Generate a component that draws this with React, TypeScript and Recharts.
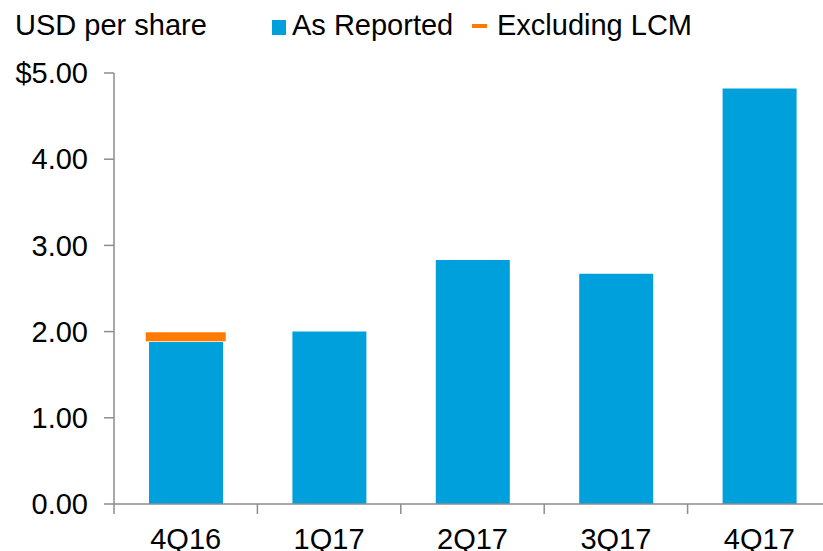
import {
  ComposedChart,
  Bar,
  Line,
  XAxis,
  YAxis,
  Legend,
} from "recharts";

const quarters = ["4Q16", "1Q17", "2Q17", "3Q17", "4Q17"];
const asReported = [1.88, 2.0, 2.83, 2.67, 4.82];
const excludingLcm: (number | null)[] = [1.94, null, null, null, null];
const yTicks = [0, 1, 2, 3, 4, 5];

const BLUE = "#00A0DC";
const ORANGE = "#FF7A00";
const AXIS = "#8C8C8C";
const FONT = "'Liberation Sans', Arial, sans-serif";
const FS = 29;

const data = quarters.map((q, i) => ({
  quarter: q,
  reported: asReported[i],
  excl: excludingLcm[i],
}));

const CHART_W = 831;
const CHART_H = 551;
const PLOT_LEFT = 114;
const BAND = (CHART_W - PLOT_LEFT) / quarters.length;

function QuarterTick(props: any) {
  const { x, y, payload } = props;
  const axisY = y - 24;
  const edge = x - BAND / 2;
  return (
    <g>
      <line x1={edge} y1={axisY} x2={edge} y2={axisY + 10} stroke={AXIS} strokeWidth={1.5} />
      <text
        x={x}
        y={y}
        dy="0.71em"
        textAnchor="middle"
        fill="#000"
        fontSize={FS}
        fontFamily={FONT}
      >
        {payload.value}
      </text>
    </g>
  );
}

function ExclMarker(props: any) {
  const { cx, cy, index } = props;
  if (cy == null || cx == null) return <g key={`m-${index}`} />;
  return <rect key={`m-${index}`} x={cx - 40} y={cy - 4.5} width={80} height={9} fill={ORANGE} />;
}

function LegendContent() {
  const txt: React.CSSProperties = {
    position: "absolute",
    top: 11,
    lineHeight: "28px",
    fontSize: FS,
    fontFamily: FONT,
    color: "#000",
    whiteSpace: "nowrap",
  };
  return (
    <div style={{ position: "relative", width: 823, height: 50 }}>
      <span style={{ ...txt, left: 15 }}>USD per share</span>
      <span style={{ position: "absolute", left: 272, top: 20, width: 14, height: 15, background: BLUE }} />
      <span style={{ ...txt, left: 292 }}>As Reported</span>
      <span style={{ position: "absolute", left: 472, top: 24, width: 15, height: 4, background: ORANGE }} />
      <span style={{ ...txt, left: 497 }}>Excluding LCM</span>
    </div>
  );
}

export default function App() {
  return (
    <div
      style={{
        position: "absolute",
        left: 0,
        top: 0,
        width: 823,
        height: 551,
        overflow: "hidden",
        background: "#fff",
      }}
    >
      <ComposedChart
        width={CHART_W}
        height={CHART_H}
        data={data}
        margin={{ top: 73, right: 0, bottom: 0, left: 14 }}
      >
        <XAxis
          dataKey="quarter"
          height={47}
          axisLine={{ stroke: AXIS, strokeWidth: 1.5 }}
          tickLine={false}
          tickSize={10}
          tickMargin={14}
          tick={<QuarterTick />}
          interval={0}
        />
        <YAxis
          width={100}
          domain={[0, 5]}
          ticks={yTicks}
          interval={0}
          axisLine={{ stroke: AXIS, strokeWidth: 1.5 }}
          tickLine={{ stroke: AXIS, strokeWidth: 1.5 }}
          tickSize={10}
          tickMargin={16}
          tick={{ fill: "#000", fontSize: FS, fontFamily: FONT }}
          tickFormatter={(v: number) => (v === 5 ? `$${v.toFixed(2)}` : v.toFixed(2))}
        />
        <Legend
          verticalAlign="middle"
          align="center"
          layout="horizontal"
          content={<LegendContent />}
          wrapperStyle={{ top: 0, left: 0, width: 823 }}
        />
        <Bar dataKey="reported" name="As Reported" fill={BLUE} barSize={74} isAnimationActive={false} />
        <Line
          dataKey="excl"
          name="Excluding LCM"
          stroke="none"
          connectNulls={false}
          dot={ExclMarker}
          activeDot={false}
          isAnimationActive={false}
        />
      </ComposedChart>
    </div>
  );
}
